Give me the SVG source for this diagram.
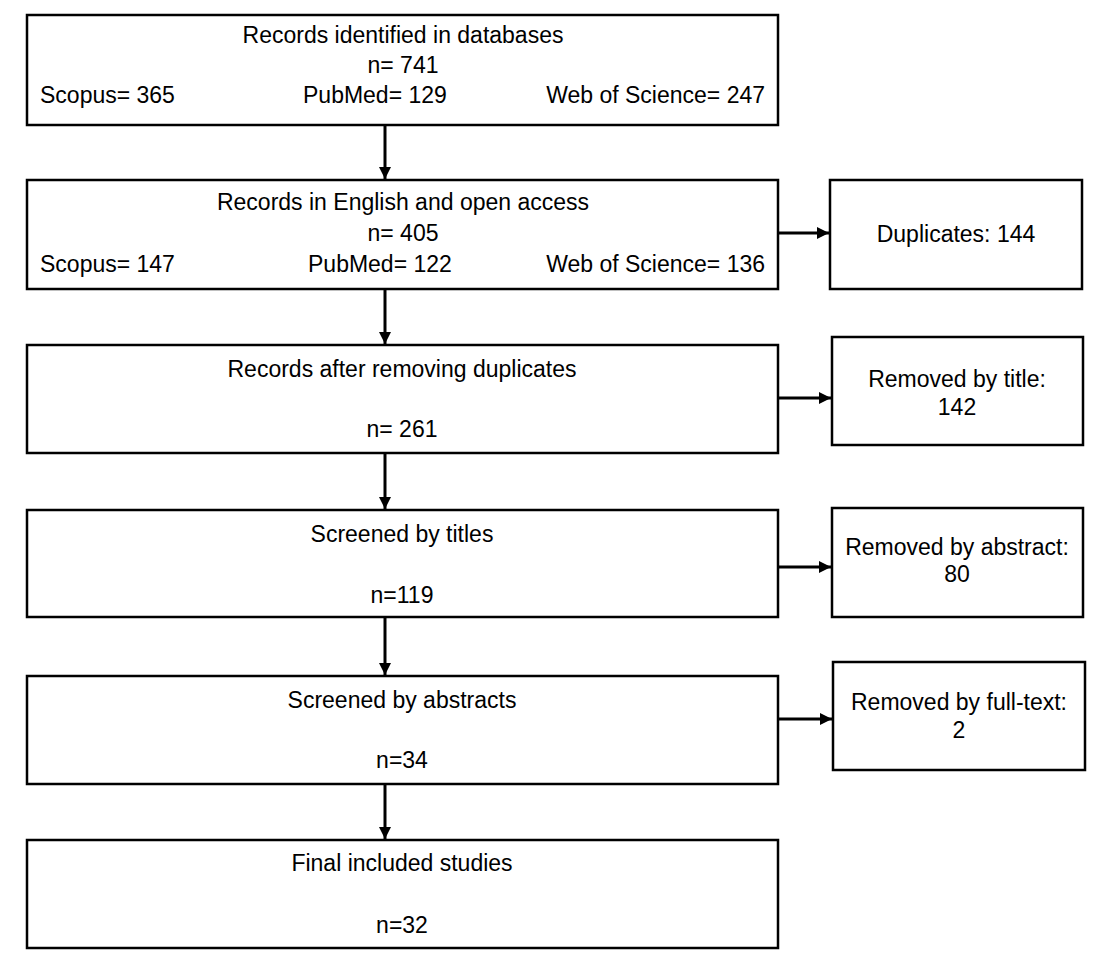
<svg xmlns="http://www.w3.org/2000/svg" width="1106" height="964" viewBox="0 0 1106 964">
<style>
  .box{fill:#fff;stroke:#000;stroke-width:2.5}
  .t{font-family:"Liberation Sans",Arial,sans-serif;font-size:23px;fill:#000}
  .c{text-anchor:middle}
  .e{text-anchor:end}
  .conn{stroke:#000;stroke-width:3;fill:none}
</style>
<defs>
  <marker id="ah" markerUnits="userSpaceOnUse" markerWidth="12" markerHeight="12" refX="12" refY="6" orient="auto">
    <path d="M0,0 L12,6 L0,12 Z" fill="#000"/>
  </marker>
</defs>
<rect width="1106" height="964" fill="#fff"/>
<g id="connectors">
  <path class="conn" d="M385,126 V179" marker-end="url(#ah)"/>
  <path class="conn" d="M385,290 V344" marker-end="url(#ah)"/>
  <path class="conn" d="M385,454 V509" marker-end="url(#ah)"/>
  <path class="conn" d="M385,618 V675" marker-end="url(#ah)"/>
  <path class="conn" d="M385,785 V839" marker-end="url(#ah)"/>
  <path class="conn" d="M779,233 H829" marker-end="url(#ah)"/>
  <path class="conn" d="M779,398 H831" marker-end="url(#ah)"/>
  <path class="conn" d="M779,567 H831" marker-end="url(#ah)"/>
  <path class="conn" d="M779,719 H832" marker-end="url(#ah)"/>
</g>
<g id="n1">
  <rect class="box" x="27" y="15" width="751" height="110"/>
  <text class="t c" x="403" y="43">Records identified in databases</text>
  <text class="t c" x="403" y="73">n= 741</text>
  <text class="t" x="40" y="103">Scopus= 365</text>
  <text class="t" x="303" y="103">PubMed= 129</text>
  <text class="t e" x="765" y="103">Web of Science= 247</text>
</g>
<g id="n2">
  <rect class="box" x="27" y="180" width="751" height="109"/>
  <text class="t c" x="403" y="210">Records in English and open access</text>
  <text class="t c" x="403" y="241">n= 405</text>
  <text class="t" x="40" y="272">Scopus= 147</text>
  <text class="t" x="308" y="272">PubMed= 122</text>
  <text class="t e" x="765" y="272">Web of Science= 136</text>
</g>
<g id="n3">
  <rect class="box" x="27" y="345" width="751" height="108"/>
  <text class="t c" x="402" y="377">Records after removing duplicates</text>
  <text class="t c" x="402" y="437">n= 261</text>
</g>
<g id="n4">
  <rect class="box" x="27" y="510" width="751" height="107"/>
  <text class="t c" x="402" y="542">Screened by titles</text>
  <text class="t c" x="402" y="603">n=119</text>
</g>
<g id="n5">
  <rect class="box" x="27" y="676" width="751" height="108"/>
  <text class="t c" x="402" y="708">Screened by abstracts</text>
  <text class="t c" x="402" y="768">n=34</text>
</g>
<g id="n6">
  <rect class="box" x="27" y="840" width="751" height="108"/>
  <text class="t c" x="402" y="871">Final included studies</text>
  <text class="t c" x="402" y="933">n=32</text>
</g>
<g id="s1">
  <rect class="box" x="830" y="180" width="252" height="109"/>
  <text class="t c" x="956" y="242">Duplicates: 144</text>
</g>
<g id="s2">
  <rect class="box" x="832" y="337" width="251" height="108"/>
  <text class="t c" x="957" y="387">Removed by title:</text>
  <text class="t c" x="957" y="415">142</text>
</g>
<g id="s3">
  <rect class="box" x="832" y="508" width="251" height="109"/>
  <text class="t c" x="957" y="555">Removed by abstract:</text>
  <text class="t c" x="957" y="582">80</text>
</g>
<g id="s4">
  <rect class="box" x="833" y="662" width="252" height="108"/>
  <text class="t c" x="959" y="710">Removed by full-text:</text>
  <text class="t c" x="959" y="738">2</text>
</g>
</svg>
